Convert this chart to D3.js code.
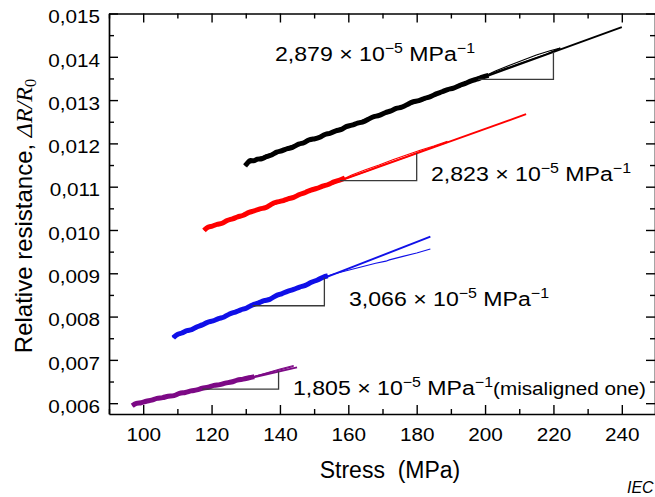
<!DOCTYPE html>
<html>
<head>
<meta charset="utf-8">
<script src="https://cdn.jsdelivr.net/npm/d3@7"></script>
<style>
  html, body { margin: 0; padding: 0; background: #fff; }
  svg { display: block; }
</style>
</head>
<body>
<svg id="chart" width="655" height="497"></svg>
<script>
// ---- axis ticks ----
const xMajor = [100, 120, 140, 160, 180, 200, 220, 240];
const xMinor = [90, 110, 130, 150, 170, 190, 210, 230, 250];
const yMajor = [0.006, 0.007, 0.008, 0.009, 0.010, 0.011, 0.012, 0.013, 0.014, 0.015];
const yMinor = [0.0065, 0.0075, 0.0085, 0.0095, 0.0105, 0.0115, 0.0125, 0.0135, 0.0145];

// ---- fitted sensitivities (slope of ΔR/R0 vs stress, per MPa) ----
const slopeValues = [2.879e-5, 2.823e-5, 3.066e-5, 1.805e-5];
// start point of each fitted line [stress, ΔR/R0] and stress where it ends
const fitStart = [[130, 0.01152], [118, 0.01002], [108.5, 0.00753], [97, 0.00596]];
const fitEnd = [240, 212, 184, 145];
// stress span of the slope triangles drawn under each fit
const triangleSpan = [[198, 220], [157.6, 180], [132, 153], [117.3, 139.6]];
const seriesColors = ["#000000", "#ff0000", "#1010e8", "#7d0a86"];

// ---- measured curves [stress MPa, ΔR/R0] ----
const blackLoad = [[129.8,0.01148],[130.6,0.01156],[131.4,0.01162],[132.2,0.01158],[133.5,0.01165],[134.6,0.01163],[136,0.01170],[137.8,0.01173],[139,0.01181],[140.5,0.01182],[142.3,0.01189],[143.5,0.01189],[145.6,0.01200],[147,0.01200],[148.4,0.01209],[150,0.01210],[151.7,0.01213],[153.2,0.01222],[154.5,0.01222],[156.4,0.01230],[158,0.01231],[159.3,0.01240],[161,0.01241],[162.8,0.01248],[164,0.01248],[165.9,0.01256],[167.5,0.01263],[169,0.01263],[170.8,0.01272],[172.5,0.01274],[174,0.01282],[175.6,0.01282],[177.5,0.01291],[179,0.01297],[180.6,0.01298],[182.4,0.01305],[184,0.01307],[185.7,0.01315],[187.5,0.01319],[189,0.01325],[190.8,0.01327],[192.5,0.01334],[194.2,0.01338],[196,0.01345],[197.6,0.01348],[199.2,0.01353],[201,0.01357]];
const blackUpper = [[199,0.01352],[203,0.01367],[207,0.01380],[211,0.01392],[215,0.01404],[219,0.01414],[222,0.01420]];
const blackReturn = [[222,0.01420],[218,0.01406],[214,0.01395],[210,0.01384],[206,0.01373],[202,0.01362],[198,0.01350],[194,0.01339],[190,0.01328],[186,0.01316],[182,0.01305],[178,0.01293],[174,0.01282],[170,0.01270],[166,0.01259],[162,0.01247],[158,0.01236],[154,0.01224],[150,0.01213],[146,0.01201],[142,0.01190],[138,0.01178],[134,0.01167],[131,0.01158]];

const redLoad = [[117.8,0.00999],[118.9,0.01008],[120.2,0.01008],[121.6,0.01014],[123.1,0.01014],[124.5,0.01023],[126.2,0.01025],[127.6,0.01031],[129.3,0.01033],[131,0.01042],[132.4,0.01043],[134.2,0.01050],[135.8,0.01050],[137.3,0.01059],[139,0.01065],[140.6,0.01066],[142.4,0.01073],[144,0.01074],[145.7,0.01083],[147.5,0.01086],[149,0.01093],[150.8,0.01095],[152.5,0.01102],[154.1,0.01104],[155.8,0.01112],[157.5,0.01115],[159,0.01120]];
const redUpper = [[157,0.01112],[161,0.01127],[165,0.01139],[169,0.01150],[173,0.01162],[177,0.01173],[181,0.01184],[185,0.01194],[189,0.01205]];
const redReturn = [[189,0.01203],[185,0.01192],[181,0.01181],[177,0.01169],[173,0.01158],[169,0.01147],[165,0.01135],[161,0.01124],[157,0.01113],[152,0.01099],[147,0.01085],[142,0.01071],[137,0.01057],[132,0.01043],[127,0.01029],[122,0.01015],[119,0.01006]];

const blueLoad = [[108.8,0.00751],[110,0.00760],[111.3,0.00761],[112.8,0.00769],[114.2,0.00768],[115.6,0.00777],[117.3,0.00780],[118.8,0.00788],[120.4,0.00789],[122,0.00796],[123.7,0.00798],[125.2,0.00807],[127,0.00810],[128.5,0.00816],[130.3,0.00819],[132,0.00828],[133.6,0.00830],[135.4,0.00838],[137,0.00838],[138.7,0.00849],[140.5,0.00852],[142.2,0.00859],[144,0.00862],[145.8,0.00869],[147.4,0.00871],[149.2,0.00880],[151,0.00884],[152.7,0.00892],[154,0.00894]];
const blueUpper = [[152,0.00889],[156,0.00899],[160,0.00907],[164,0.00915],[168,0.00923],[171,0.00928],[172,0.00931],[176,0.00939],[180,0.00947],[184,0.00956]];
const blueReturn = [[152,0.00886],[146,0.00868],[140,0.00850],[134,0.00831],[128,0.00813],[122,0.00794],[116,0.00776],[111,0.00759]];

const purpleLoad = [[96.8,0.00594],[98,0.00601],[99.4,0.00600],[100.9,0.00605],[102.5,0.00606],[104,0.00612],[105.7,0.00612],[107.3,0.00617],[109,0.00616],[110.6,0.00624],[112.3,0.00624],[114,0.00629],[115.7,0.00630],[117.3,0.00635],[119,0.00636],[120.7,0.00642],[122.4,0.00642],[124,0.00647],[125.8,0.00648],[127.5,0.00654],[129.2,0.00655],[131,0.00659],[132.5,0.00661]];
const purpleUpper = [[131,0.00658],[134,0.00665],[137,0.00672],[140,0.00679],[144,0.00687]];
const purpleReturn = [[144,0.00685],[140,0.00677],[136,0.00669],[132,0.00661],[128,0.00653],[122,0.00643],[116,0.00632],[110,0.00621],[104,0.00610],[99,0.00600]];

const measured = [
  { load: blackLoad, upper: blackUpper, back: blackReturn },
  { load: redLoad, upper: redUpper, back: redReturn },
  { load: blueLoad, upper: blueUpper, back: blueReturn },
  { load: purpleLoad, upper: purpleUpper, back: purpleReturn }
];

// ---- layout ----
const SANS = "'Liberation Sans', Arial, Helvetica, sans-serif";
const SERIF = "'Liberation Serif', 'Times New Roman', serif";
const svg = d3.select("#chart");
const x = d3.scaleLinear().domain([90, 250]).range([109, 656]);
const y = d3.scaleLinear().domain([0.00575, 0.015]).range([414, 13.5]);
const loc = d3.formatLocale({ decimal: ",", thousands: ".", grouping: [3], currency: ["", ""] });
const fmt3 = loc.format(".3f");
const line = d3.line().x(d => x(d[0])).y(d => y(d[1]));
const smooth = d3.line().x(d => x(d[0])).y(d => y(d[1])).curve(d3.curveBasis);

// ---- frame: four axes with inward ticks ----
function styleAxis(g, keepDomain) {
  g.selectAll(".tick line").attr("stroke", "#000").attr("stroke-width", 1.4);
  if (keepDomain) g.select(".domain").attr("stroke", "#000").attr("stroke-width", 1.7);
  else g.select(".domain").remove();
}
const TX = 1.12; // horizontal stretch of the tick-label lettering

const gBottom = svg.append("g").attr("transform", "translate(0,414)")
  .call(d3.axisBottom(x).tickValues(xMajor).tickSize(-9).tickSizeOuter(0).tickPadding(14).tickFormat(d3.format("d")));
styleAxis(gBottom, true);
gBottom.attr("font-family", SANS).attr("font-size", 18.5);
gBottom.selectAll("text").attr("fill", "#000").attr("transform", `scale(${TX},1)`);

svg.append("g").attr("transform", "translate(0,414)")
  .call(d3.axisBottom(x).tickValues(xMinor).tickSize(-5).tickFormat(""))
  .call(g => styleAxis(g, false));

const gLeft = svg.append("g").attr("transform", "translate(109,0)")
  .call(d3.axisLeft(y).tickValues(yMajor).tickSize(-9).tickSizeOuter(0).tickPadding(9).tickFormat(fmt3));
styleAxis(gLeft, true);
gLeft.attr("font-family", SANS).attr("font-size", 18.5);
gLeft.selectAll("text").attr("fill", "#000").attr("x", -9 / TX).attr("dy", "0.5em")
  .attr("transform", `scale(${TX},1)`);

svg.append("g").attr("transform", "translate(109,0)")
  .call(d3.axisLeft(y).tickValues(yMinor).tickSize(-5).tickFormat(""))
  .call(g => styleAxis(g, false));

svg.append("g").attr("transform", "translate(0,13.5)")
  .call(d3.axisTop(x).tickValues(xMajor).tickSize(-9).tickSizeOuter(0).tickFormat(""))
  .call(g => styleAxis(g, true));
svg.append("g").attr("transform", "translate(0,13.5)")
  .call(d3.axisTop(x).tickValues(xMinor).tickSize(-5).tickFormat(""))
  .call(g => styleAxis(g, false));

svg.append("g").attr("transform", "translate(655,0)")
  .call(d3.axisRight(y).tickValues(yMajor).tickSize(-9).tickSizeOuter(0).tickFormat(""))
  .call(g => styleAxis(g, true));
svg.append("g").attr("transform", "translate(655,0)")
  .call(d3.axisRight(y).tickValues(yMinor).tickSize(-5).tickFormat(""))
  .call(g => styleAxis(g, false));

// ---- curves, fits and slope triangles ----
const plot = svg.append("g");
measured.forEach((s, i) => {
  const c = seriesColors[i];
  // body of the loading curve, then its raw trace on top for the ragged edge
  plot.append("path").datum(s.load).attr("d", smooth)
    .attr("fill", "none").attr("stroke", c).attr("stroke-width", 5);
  plot.append("path").datum(s.load).attr("d", line)
    .attr("fill", "none").attr("stroke", c).attr("stroke-width", 1.6).attr("stroke-linejoin", "miter");
  plot.append("path").datum(s.back).attr("d", line)
    .attr("fill", "none").attr("stroke", c).attr("stroke-width", 1.3);
  plot.append("path").datum(s.upper).attr("d", line)
    .attr("fill", "none").attr("stroke", c).attr("stroke-width", 1.1);

  const fit = xs => fitStart[i][1] + (xs - fitStart[i][0]) * slopeValues[i];
  plot.append("path").datum([[fitStart[i][0], fitStart[i][1]], [fitEnd[i], fit(fitEnd[i])]])
    .attr("d", line).attr("fill", "none").attr("stroke", c).attr("stroke-width", 1.9);

  const [t0, t1] = triangleSpan[i];
  plot.append("path").datum([[t0, fit(t0)], [t1, fit(t0)], [t1, fit(t1)]])
    .attr("d", line).attr("fill", "none").attr("stroke", "#3a3a3a").attr("stroke-width", 1.3);
});

// ---- slope annotations ----
function slopeLabel(i, px, py, extra) {
  const g = svg.append("g").attr("transform", `translate(${px},${py}) scale(1.1,1)`);
  const t = g.append("text").attr("font-family", SANS).attr("font-size", 21).attr("fill", "#000");
  t.append("tspan").text(fmt3(slopeValues[i] / 1e-5) + " \u00d7 10");
  t.append("tspan").attr("font-size", 14.5).attr("dy", -8).text("\u22125");
  t.append("tspan").attr("dy", 8).text("\u00a0MPa");
  t.append("tspan").attr("font-size", 14.5).attr("dy", -8).text("\u22121");
  if (extra) t.append("tspan").attr("dy", 8).attr("font-size", 18.8).text(extra);
}
slopeLabel(0, 275, 61);
slopeLabel(1, 431, 181);
slopeLabel(2, 349, 306);
slopeLabel(3, 293, 395, "(misaligned one)");

// ---- axis titles ----
svg.append("text")
  .attr("x", 390).attr("y", 478).attr("text-anchor", "middle")
  .attr("font-family", SANS).attr("font-size", 23).attr("fill", "#000")
  .text("Stress\u00a0\u00a0(MPa)");

const yt = svg.append("text")
  .attr("transform", "translate(32,216) rotate(-90)").attr("text-anchor", "middle")
  .attr("font-family", SANS).attr("font-size", 24).attr("fill", "#000");
yt.append("tspan").text("Relative resistance,\u00a0");
yt.append("tspan").attr("font-family", SERIF).attr("font-style", "italic").text("\u0394R/R");
yt.append("tspan").attr("font-family", SERIF).attr("font-size", 16.5).attr("dy", 4).text("0");

svg.append("text")
  .attr("x", 627).attr("y", 493)
  .attr("font-family", SANS).attr("font-style", "italic").attr("font-size", 16).attr("fill", "#000")
  .text("IEC");
</script>
</body>
</html>
